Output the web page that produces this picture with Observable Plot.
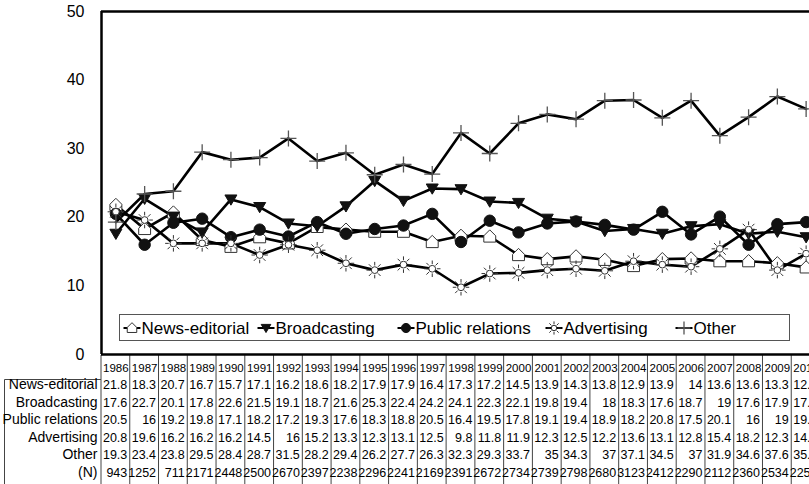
<!DOCTYPE html>
<html><head><meta charset="utf-8">
<script src="https://cdn.jsdelivr.net/npm/d3@7"></script>
<script src="https://cdn.jsdelivr.net/npm/@observablehq/plot@0.6"></script>
<style>
html,body{margin:0;padding:0;background:#fff;overflow:hidden;}
#wrap{width:809px;height:484px;overflow:hidden;position:relative;}
</style></head><body><div id="wrap"></div>
<script>
const years = [1986,1987,1988,1989,1990,1991,1992,1993,1994,1995,1996,1997,1998,1999,2000,2001,2002,2003,2004,2005,2006,2007,2008,2009,2010];
const newsEditorial   = [21.8,18.3,20.7,16.7,15.7,17.1,16.2,18.6,18.2,17.9,17.9,16.4,17.3,17.2,14.5,13.9,14.3,13.8,12.9,13.9,14,13.6,13.6,13.3,12.7];
const broadcasting    = [17.6,22.7,20.1,17.8,22.6,21.5,19.1,18.7,21.6,25.3,22.4,24.2,24.1,22.3,22.1,19.8,19.4,18,18.3,17.6,18.7,19,17.6,17.9,17.1];
const publicRelations = [20.5,16,19.2,19.8,17.1,18.2,17.2,19.3,17.6,18.3,18.8,20.5,16.4,19.5,17.8,19.1,19.4,18.9,18.2,20.8,17.5,20.1,16,19,19.3];
const advertising     = [20.8,19.6,16.2,16.2,16.2,14.5,16,15.2,13.3,12.3,13.1,12.5,9.8,11.8,11.9,12.3,12.5,12.2,13.6,13.1,12.8,15.4,18.2,12.3,14.7];
const other           = [19.3,23.4,23.8,29.5,28.4,28.7,31.5,28.2,29.4,26.2,27.7,26.3,32.3,29.3,33.7,35,34.3,37,37.1,34.5,37,31.9,34.6,37.6,35.8];
const nCounts         = [943,1252,711,2171,2448,2500,2670,2397,2238,2296,2241,2169,2391,2672,2734,2739,2798,2680,3123,2412,2290,2112,2360,2534,2253];
const seriesNames = ["News-editorial","Broadcasting","Public relations","Advertising","Other"];
const rowLabels = ["News-editorial","Broadcasting","Public relations","Advertising","Other","(N)"];
const yTicks = [0,10,20,30,40,50];

const seriesValues = [newsEditorial, broadcasting, publicRelations, advertising, other];
const tableRows = [newsEditorial, broadcasting, publicRelations, advertising, other, nCounts];

// custom marker shapes
const house = {draw(c, size){ const r = Math.sqrt(size/Math.PI);
  c.moveTo(-r*0.85, r*0.8); c.lineTo(r*0.85, r*0.8); c.lineTo(r*0.85, -r*0.1);
  c.lineTo(0, -r*0.95); c.lineTo(-r*0.85, -r*0.1); c.closePath(); }};
const triDown = {draw(c, size){ const r = Math.sqrt(size/Math.PI);
  c.moveTo(-r, -r*0.75); c.lineTo(r, -r*0.75); c.lineTo(0, r*0.95); c.closePath(); }};
const disc = {draw(c, size){ const r = Math.sqrt(size/Math.PI)*0.95;
  c.moveTo(r,0); c.arc(0,0,r,0,2*Math.PI); }};
const sun = {draw(c, size){ const r = Math.sqrt(size/Math.PI); const ri = r*0.45;
  c.moveTo(ri,0); c.arc(0,0,ri,0,2*Math.PI);
  for (let k=0;k<8;k++){ const a = k*Math.PI/4; c.moveTo(Math.cos(a)*r*0.62, Math.sin(a)*r*0.62); c.lineTo(Math.cos(a)*r*1.1, Math.sin(a)*r*1.1);} }};
const plus = {draw(c, size){ const r = Math.sqrt(size/Math.PI);
  c.moveTo(-r,0); c.lineTo(r,0); c.moveTo(0,-r); c.lineTo(0,r); }};

const styles = [
  {symbol: house,   fill: "#fff", stroke: "#333", strokeWidth: 1,   r: 7},
  {symbol: triDown, fill: "#111", stroke: "#111", strokeWidth: 1,   r: 6},
  {symbol: disc,    fill: "#111", stroke: "#111", strokeWidth: 1,   r: 6},
  {symbol: sun,     fill: "#fff", stroke: "#333", strokeWidth: 1,   r: 7.5},
  {symbol: plus,    fill: "none", stroke: "#555", strokeWidth: 1.3, r: 8}
];

const long = seriesNames.flatMap((name, k) => years.map((yr, i) => ({series: name, year: yr, value: seriesValues[k][i]})));

const rowDy = [34, 52, 69, 87, 104, 122];
const headerDy = 17;

function tableGrid(index, scales, values, dims) {
  const g = d3.create("svg:g");
  const x = scales.x;
  const top = dims.height - dims.marginBottom + 1;
  const bottom = dims.height;
  const bounds = years.map(y => y - 0.5).concat([years[years.length-1] + 0.5]);
  g.selectAll("line.v").data(bounds).join("line")
    .attr("x1", d => x(d)).attr("x2", d => x(d))
    .attr("y1", top).attr("y2", bottom)
    .attr("stroke", "#444").attr("stroke-width", 1);
  const left = dims.marginLeft;
  g.append("line").attr("x1", 4.5).attr("x2", left).attr("y1", top + 24.5).attr("y2", top + 24.5).attr("stroke", "#444");
  g.append("line").attr("x1", 4.5).attr("x2", 4.5).attr("y1", top + 24.5).attr("y2", bottom).attr("stroke", "#444");
  return g.node();
}

function legend(index, scales, values, dims) {
  const g = d3.create("svg:g");
  g.append("rect").attr("x", 119.5).attr("y", 314.5).attr("width", 670).attr("height", 26)
    .attr("fill", "#fff").attr("stroke", "#555").attr("stroke-width", 1);
  const cy = 328;
  const xs = [132, 266, 406, 554, 684];
  seriesNames.forEach((name, k) => {
    const s = styles[k];
    g.append("line").attr("x1", xs[k]-8.5).attr("x2", xs[k]+8.5).attr("y1", cy).attr("y2", cy)
      .attr("stroke", "#000").attr("stroke-width", 2);
    g.append("path").attr("transform", `translate(${xs[k]},${cy})`)
      .attr("d", d3.symbol().type(s.symbol).size(Math.PI * Math.pow(s.r*0.8, 2))())
      .attr("fill", s.fill).attr("stroke", s.stroke).attr("stroke-width", s.strokeWidth);
    g.append("text").attr("x", xs[k] + 9.5).attr("y", cy).attr("dy", "0.35em")
      .attr("text-anchor", "start")
      .attr("font-size", 17).attr("fill", "#000").text(name);
  });
  return g.node();
}

const marks = [
  tableGrid,
  Plot.ruleY([0, 50], {stroke: "#000", strokeWidth: 2.5}),
  Plot.ruleX([years[0] - 0.5], {stroke: "#000", strokeWidth: 2.5}),
  Plot.axisY({ticks: yTicks, tickSize: 0, tickPadding: 17, fontSize: 16, tickFormat: d => d, label: null}),
  Plot.line(long, {x: "year", y: "value", z: "series", stroke: "#000", strokeWidth: 2.6}),
  ...seriesNames.map((name, k) => Plot.dot(long.filter(d => d.series === name), {x: "year", y: "value", ...styles[k]})),
  legend,
  Plot.text(years, {x: d => d, text: d => String(d), frameAnchor: "bottom", dy: headerDy, fontSize: 11.5, fill: "#000"}),
  ...tableRows.map((vals, r) => Plot.text(years, {x: d => d, text: (d, i) => String(vals[i]), frameAnchor: "bottom", dy: rowDy[r], dx: 11.4, textAnchor: "end", fontSize: 12.5, fill: "#000"})),
  ...rowLabels.map((lab, r) => Plot.text([lab], {text: d => d, frameAnchor: "bottom-left", dy: rowDy[r], dx: -4, textAnchor: "end", fontSize: 14, fill: "#000"}))
];

const chart = Plot.plot({
  width: 820, height: 484,
  marginLeft: 101, marginRight: 0, marginTop: 11, marginBottom: 130,
  style: {fontFamily: "Arial, 'Liberation Sans', sans-serif", maxWidth: "none", background: "#fff", color: "#000"},
  x: {type: "linear", domain: [years[0] - 0.5, years[years.length-1] + 0.5], axis: null},
  y: {domain: [0, 50], axis: null},
  marks
});
document.getElementById("wrap").appendChild(chart);
</script>
</body></html>
